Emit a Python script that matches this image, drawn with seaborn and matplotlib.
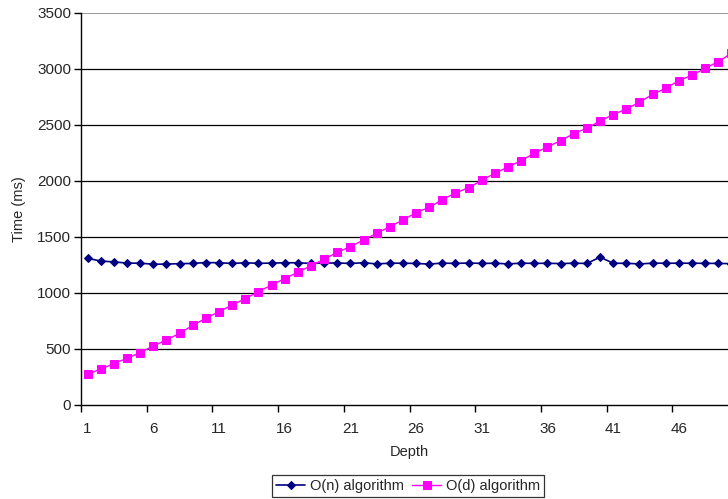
import numpy as np
import pandas as pd
import matplotlib
matplotlib.use("Agg")
import matplotlib.pyplot as plt
import seaborn as sns

depth = list(range(1, 51))
on_algorithm = [1310, 1285, 1278, 1267, 1266, 1257, 1258, 1262, 1264, 1272,
                1270, 1264, 1270, 1265, 1267, 1270, 1270, 1264, 1267, 1268,
                1264, 1270, 1260, 1266, 1266, 1264, 1258, 1267, 1264, 1268,
                1264, 1266, 1260, 1266, 1265, 1265, 1263, 1266, 1264, 1320,
                1266, 1265, 1260, 1266, 1266, 1266, 1266, 1265, 1264, 1262]
od_algorithm = [274, 321, 369, 417, 467, 527, 580, 640, 711, 774,
                833, 893, 949, 1012, 1071, 1128, 1185, 1244, 1301, 1363,
                1414, 1473, 1532, 1592, 1652, 1717, 1765, 1833, 1893, 1940,
                2006, 2069, 2125, 2182, 2247, 2304, 2360, 2423, 2471, 2536,
                2592, 2643, 2703, 2774, 2828, 2896, 2944, 3006, 3066, 3140]
y_ticks = [0, 500, 1000, 1500, 2000, 2500, 3000, 3500]
x_ticks = [1, 6, 11, 16, 21, 26, 31, 36, 41, 46]

sns.set_style("white")
plt.rcParams["font.family"] = ["Liberation Sans", "DejaVu Sans"]

df = pd.DataFrame({"Depth": depth, "O(n) algorithm": on_algorithm,
                   "O(d) algorithm": od_algorithm})

fig = plt.figure(figsize=(7.28, 4.99), dpi=100)
W, H = 728, 499
left, top, bottom = 81, 13, 405
width = 50 * 13.14
ax = fig.add_axes([left / W, 1 - bottom / H, width / W, (bottom - top) / H])

sns.lineplot(data=df, x="Depth", y="O(n) algorithm", ax=ax, color="#000080",
             marker="D", markersize=4.5, markeredgecolor="#000080",
             linewidth=1.2, label="O(n) algorithm", zorder=3)
sns.lineplot(data=df, x="Depth", y="O(d) algorithm", ax=ax, color="#FF00FF",
             marker="s", markersize=6, markeredgecolor="#FF00FF",
             linewidth=1.0, label="O(d) algorithm", zorder=4)

ax.set_xlim(0.5, 50.5)
ax.set_ylim(0, 3500)
ax.set_yticks(y_ticks)
ax.set_xticks(x_ticks)
ax.set_xticklabels([str(t) for t in x_ticks])
ax.set_xticks(np.arange(0.5, 50.6, 5), minor=True)
ax.tick_params(axis="x", which="major", length=0, labelsize=11, pad=12)
ax.tick_params(axis="x", which="minor", length=5, width=1, color="black",
               direction="out", bottom=True)
ax.tick_params(axis="y", length=5, width=1, color="black", direction="out",
               labelsize=11, left=True, pad=2)

for v in y_ticks[1:-1]:
    ax.axhline(v, color="black", linewidth=0.9, zorder=1)
ax.axhline(3500, color="#888888", linewidth=1.2, zorder=1)

for side in ["top", "right"]:
    ax.spines[side].set_visible(False)
ax.spines["left"].set_color("black")
ax.spines["bottom"].set_color("black")
ax.spines["left"].set_linewidth(1)
ax.spines["bottom"].set_linewidth(1)

ax.set_xlabel("Depth", fontsize=10.5, labelpad=7)
ax.set_ylabel("Time (ms)", fontsize=10.5, labelpad=8)

handles, labels = ax.get_legend_handles_labels()
ax.get_legend().remove()
fig.legend(handles, labels, loc="center", bbox_to_anchor=(408 / W, 1 - 486 / H),
           ncol=2, frameon=True, fancybox=False, edgecolor="black",
           fontsize=10.5, handlelength=2.0, handletextpad=0.3,
           columnspacing=0.6, borderpad=0.25, borderaxespad=0)
fig.legends[0].get_frame().set_linewidth(0.9)

fig.savefig("out.png", dpi=100)
